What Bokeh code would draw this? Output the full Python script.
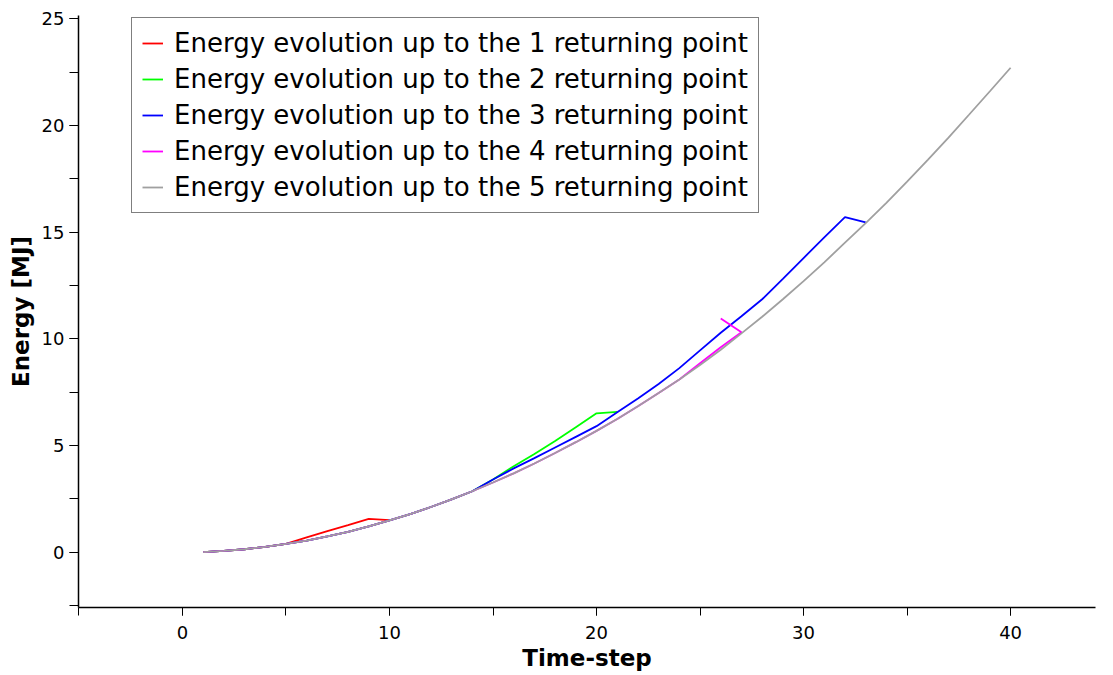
from bokeh.plotting import figure
from bokeh.models import Range1d, Legend, LegendItem, SingleIntervalTicker
from bokeh.embed import file_html
from bokeh.resources import INLINE

# ---- data ----
t_gray = list(range(1, 41))
e_gray = [0.00, 0.05, 0.13, 0.24, 0.38, 0.54, 0.73, 0.95, 1.20, 1.48,
          1.78, 2.11, 2.47, 2.85, 3.26, 3.69, 4.15, 4.64, 5.15, 5.68,
          6.24, 6.83, 7.45, 8.09, 8.77, 9.48, 10.25, 11.03, 11.85, 12.70,
          13.58, 14.50, 15.42, 16.37, 17.36, 18.38, 19.43, 20.51, 21.60, 22.70]

t_red = list(range(1, 11))
e_red = [0.00, 0.05, 0.13, 0.24, 0.38, 0.69, 0.98, 1.26, 1.55, 1.50]

t_green = list(range(1, 22))
e_green = [0.00, 0.05, 0.13, 0.24, 0.38, 0.54, 0.73, 0.95, 1.20, 1.48,
           1.78, 2.11, 2.47, 2.85, 3.40, 4.02, 4.60, 5.20, 5.85, 6.50, 6.57]

t_blue = list(range(1, 34))
e_blue = [0.00, 0.05, 0.13, 0.24, 0.38, 0.54, 0.73, 0.95, 1.20, 1.48,
          1.78, 2.11, 2.47, 2.85, 3.40, 3.92, 4.40, 4.90, 5.40, 5.90,
          6.55, 7.20, 7.88, 8.62, 9.45, 10.28, 11.05, 11.85, 12.80, 13.78,
          14.75, 15.70, 15.45]

t_mag = list(range(1, 28)) + [26]
e_mag = [0.00, 0.05, 0.13, 0.24, 0.38, 0.54, 0.73, 0.95, 1.20, 1.48,
         1.78, 2.11, 2.47, 2.85, 3.26, 3.69, 4.15, 4.64, 5.15, 5.68,
         6.24, 6.83, 7.45, 8.09, 8.85, 9.60, 10.30, 10.95]

labels = ["Energy evolution up to the 1 returning point",
          "Energy evolution up to the 2 returning point",
          "Energy evolution up to the 3 returning point",
          "Energy evolution up to the 4 returning point",
          "Energy evolution up to the 5 returning point"]
colors = ["#ff0000", "#00ff00", "#0000ff", "#ff00ff", "#a0a0a0"]

x_label = "Time-step"
y_label = "Energy [MJ]"

# ---- figure ----
p = figure(width=1097, height=675, output_backend="svg", toolbar_location=None,
           x_range=Range1d(-5.02, 44.1), y_range=Range1d(-2.6, 25.15),
           min_border_left=78, min_border_right=2, min_border_top=15,
           min_border_bottom=68)
p.outline_line_color = None
p.xgrid.visible = False
p.ygrid.visible = False
p.background_fill_color = "white"
p.border_fill_color = "white"

series = [(t_red, e_red), (t_green, e_green), (t_blue, e_blue),
          (t_mag, e_mag), (t_gray, e_gray)]
renderers = []
for (xs, ys), c in zip(series, colors):
    r = p.line(xs, ys, line_color=c, line_width=1.8)
    renderers.append(r)

for ax in (p.xaxis[0], p.yaxis[0]):
    ax.axis_line_color = "black"
    ax.axis_line_width = 1.5
    ax.major_tick_line_color = "black"
    ax.minor_tick_line_color = "black"
    ax.major_tick_in = 0
    ax.minor_tick_in = 0
    ax.major_label_text_font = "DejaVu Sans"
    ax.major_label_text_font_size = "18px"
    ax.major_label_text_color = "black"
    ax.axis_label_text_font = "DejaVu Sans"
    ax.axis_label_text_font_style = "bold"
    ax.axis_label_text_font_size = "23px"
    ax.axis_label_text_color = "black"

p.xaxis.ticker = SingleIntervalTicker(interval=10, num_minor_ticks=2)
p.yaxis.ticker = SingleIntervalTicker(interval=5, num_minor_ticks=2)
p.xaxis.major_tick_out = 8
p.xaxis.minor_tick_out = 8
p.yaxis.major_tick_out = 9
p.yaxis.minor_tick_out = 9
p.xaxis.major_label_standoff = 10
p.yaxis.major_label_standoff = 5
p.xaxis.axis_label_standoff = 3
p.yaxis.axis_label_standoff = 5
p.xaxis.axis_label = x_label
p.yaxis.axis_label = y_label

items = [LegendItem(label=l, renderers=[r]) for l, r in zip(labels, renderers)]
legend = Legend(items=items, location=(53, 394))
legend.label_text_font = "DejaVu Sans"
legend.label_text_font_size = "26px"
legend.label_text_color = "black"
legend.border_line_color = "black"
legend.border_line_width = 1
legend.background_fill_color = "white"
legend.background_fill_alpha = 1.0
legend.padding = 10
legend.spacing = 6
legend.label_height = 30
legend.glyph_height = 30
legend.glyph_width = 21
legend.label_standoff = 11
legend.margin = 0
p.add_layout(legend, "center")

open("out.html", "w").write(file_html(p, INLINE))
